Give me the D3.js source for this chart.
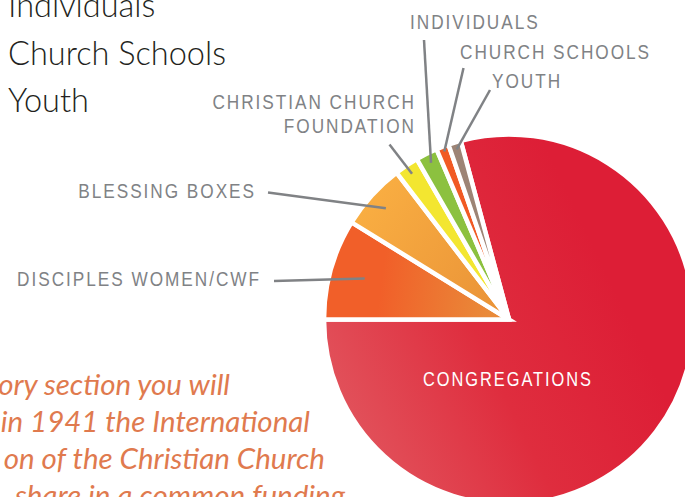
<!DOCTYPE html>
<html>
<head>
<meta charset="utf-8">
<script src="https://cdn.jsdelivr.net/npm/d3@7"></script>
<style>
  body { margin: 0; background: #fff; }
  svg { display: block; }
  .slice-label { font-family: "Liberation Sans", Arial, sans-serif; fill: #808285; }
</style>
</head>
<body>
<div id="chart-wrapper"></div>
<script>

const categories = ["Congregations", "Disciples Women/CWF", "Blessing Boxes",
  "Christian Church Foundation", "Individuals", "Church Schools", "Youth"]
const shares = [79.2, 8.8, 5.8, 2.1, 1.9, 1.1, 1.1]
const sliceLabels = [["CONGREGATIONS"], ["DISCIPLES WOMEN/CWF"], ["BLESSING BOXES"],
  ["CHRISTIAN CHURCH", "FOUNDATION"], ["INDIVIDUALS"], ["CHURCH SCHOOLS"], ["YOUTH"]]
const legendItems = ["Individuals", "Church Schools", "Youth"]
const bodyLines = ["ory section you will", "in 1941 the International",
  "on of the Christian Church", "share in a common funding"]

const colors = ["url(#grad-cong)", "url(#grad-cwf)", "url(#grad-bless)",
  "#f3e630", "#8cc13f", "#f15a24", "#9d8475"]

async function drawPie() {

  let dimensions = {
    width: 685,
    height: 497,
    cx: 509,
    cy: 319.5,
    radius: 185,
  }
  const cx = dimensions.cx, cy = dimensions.cy

  const wrapper = d3.select("#chart-wrapper")
    .append("svg")
      .attr("width", dimensions.width)
      .attr("height", dimensions.height)

  // gradients are given in page pixels, then shifted into the pie's own space
  const defs = wrapper.append("defs")
  function addGradient(id, x1, y1, x2, y2, stops) {
    const g = defs.append("linearGradient")
        .attr("id", id)
        .attr("gradientUnits", "userSpaceOnUse")
        .attr("x1", x1 - cx).attr("y1", y1 - cy)
        .attr("x2", x2 - cx).attr("y2", y2 - cy)
    stops.forEach(s => g.append("stop").attr("offset", s[0]).attr("stop-color", s[1]))
  }
  addGradient("grad-cong", 330, 440, 620, 300, [[0, "#e2575f"], [0.55, "#df2d3e"], [1, "#dd1e36"]])
  addGradient("grad-cwf", 380, 290, 490, 305, [[0, "#f15f29"], [1, "#e98a39"]])
  addGradient("grad-bless", 360, 205, 490, 300, [[0, "#f9ae42"], [1, "#eb9538"]])

  // legend text, top left
  wrapper.append("g")
    .selectAll("text")
    .data(legendItems)
    .join("text")
      .attr("x", 8)
      .attr("y", (d, i) => 17 + i * 47.5)
      .style("font-family", "Lato, 'Open Sans', sans-serif")
      .style("font-weight", 300)
      .style("font-size", "32.5px")
      .style("fill", "#231f20")
      .text(d => d)

  // body copy, bottom left
  const bodyRight = [230, 310, 325, 345]
  wrapper.append("g")
    .selectAll("text")
    .data(bodyLines)
    .join("text")
      .attr("x", (d, i) => bodyRight[i])
      .attr("y", (d, i) => 395 + i * 37)
      .attr("text-anchor", "end")
      .style("font-family", "Lato, 'Open Sans', sans-serif")
      .style("font-style", "italic")
      .style("font-size", "29.5px")
      .style("fill", "#e07a4e")
      .text(d => d)

  const a0 = 1.5 * Math.PI - 2 * Math.PI * shares[0] / d3.sum(shares)
  const pie = d3.pie()
      .sort(null)
      .startAngle(a0)
      .endAngle(a0 + 2 * Math.PI)
  const arcs = pie(shares)

  const arcGenerator = d3.arc()
      .innerRadius(0)
      .outerRadius(dimensions.radius)

  const bounds = wrapper.append("g")
      .attr("transform", `translate(${cx}, ${cy})`)

  bounds.selectAll("path")
    .data(arcs)
    .join("path")
      .attr("d", arcGenerator)
      .attr("fill", (d, i) => colors[i])
      .attr("stroke", "#fff")
      .attr("stroke-width", 4.5)
      .attr("stroke-linejoin", "miter")

  // condensed caps: Liberation Sans squeezed horizontally
  const squeeze = 0.82
  function capsLabel(x, y, anchor, text, size, fill) {
    const t = wrapper.append("text")
        .attr("class", "slice-label")
        .attr("transform", `translate(${x}, ${y}) scale(${squeeze}, 1)`)
        .attr("text-anchor", anchor)
        .style("font-size", size + "px")
        .style("letter-spacing", "2.4px")
        .text(text)
    if (anchor === "end") t.attr("dx", 2.4)
    if (fill) t.style("fill", fill)
    return t
  }

  // leader lines + labels for the small slices
  const labelLayout = [
    null,
    { r: 150, from: [274, 281], lines: [[259, 286]], anchor: "end" },
    { r: 166, from: [268, 192.5], lines: [[254, 197.5]], anchor: "end" },
    { r: 175, from: [389.5, 144.5], lines: [[414, 109], [414, 132.5]], anchor: "end" },
    { r: 175, from: [424, 40], lines: [[410, 29]], anchor: "start" },
    { r: 180, from: [463.5, 68], lines: [[460, 59]], anchor: "start" },
    { r: 178, from: [490, 90], lines: [[492, 88]], anchor: "start" },
  ]

  arcs.forEach((d, i) => {
    const lay = labelLayout[i]
    if (!lay) return
    const mid = (d.startAngle + d.endAngle) / 2
    const x2 = cx + lay.r * Math.sin(mid)
    const y2 = cy - lay.r * Math.cos(mid)
    wrapper.append("line")
        .attr("x1", lay.from[0]).attr("y1", lay.from[1])
        .attr("x2", x2).attr("y2", y2)
        .attr("stroke", "#808285")
        .attr("stroke-width", 2.5)
    sliceLabels[i].forEach((t, j) => {
      capsLabel(lay.lines[j][0], lay.lines[j][1], lay.anchor, t, 21)
    })
  })

  capsLabel(508, 386, "middle", sliceLabels[0][0], 20, "#fff")
}

drawPie()
</script>
</body>
</html>
